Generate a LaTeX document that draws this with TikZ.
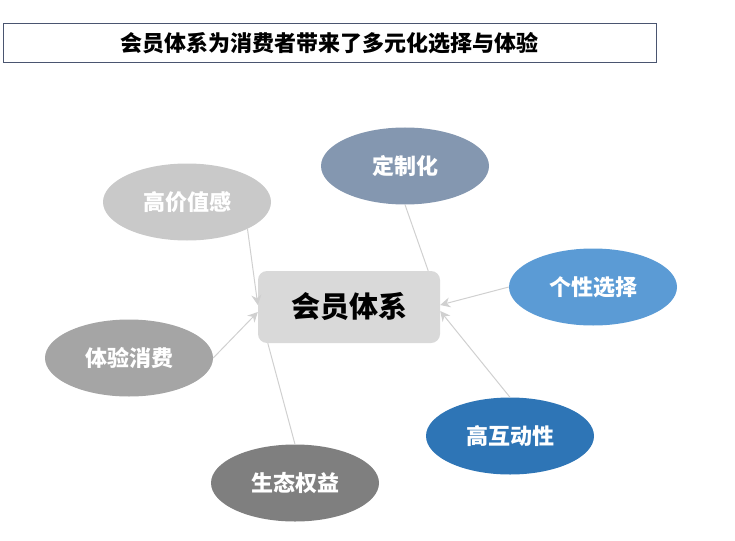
\documentclass[tikz,border=0pt]{standalone}
\usepackage{fontspec}
\setmainfont{Noto Sans CJK SC}
\usepackage{xcolor}
\usetikzlibrary{shapes.geometric, arrows.meta, positioning, calc}
\definecolor{framec}{HTML}{4A5570}
\definecolor{hubc}{HTML}{D9D9D9}
\definecolor{linec}{HTML}{D0D0D0}
\definecolor{c1}{HTML}{8497B0}
\definecolor{c2}{HTML}{C9C9C9}
\definecolor{c3}{HTML}{5B9BD5}
\definecolor{c4}{HTML}{A5A5A5}
\definecolor{c5}{HTML}{2E75B6}
\definecolor{c6}{HTML}{7F7F7F}
\tikzset{
    bubble/.style={ellipse, minimum width=168pt, minimum height=77pt, inner sep=0pt,
        text=white, font=\fontsize{22}{26}\selectfont\bfseries},
    link/.style={draw=linec, line width=1pt},
    linkarrow/.style={link, -{Stealth[length=10pt, width=10pt]}}
}

\begin{document}
\begin{tikzpicture}[x=1pt, y=-1pt]
        \useasboundingbox (0,0) rectangle (735,540);
        \node[draw=framec, line width=1pt, minimum width=653pt, minimum height=39pt,
            font=\fontsize{22}{26}\selectfont\bfseries] at (329.5,43.5) (title)
            {会员体系为消费者带来了多元化选择与体验};

        \node[fill=hubc, rounded corners=9pt, minimum width=182pt, minimum height=72pt,
            font=\fontsize{29}{33}\selectfont\bfseries] at (349,307) (hub) {会员体系};

        \node[bubble, fill=c1] at (405,166) (custom) {定制化};
        \node[bubble, fill=c2] at (187,202) (value) {高价值感};
        \node[bubble, fill=c3] at (593,287) (personal) {个性选择};
        \node[bubble, fill=c4] at (129,358) (experience) {体验消费};
        \node[bubble, fill=c5] at (510,436) (interact) {高互动性};
        \node[bubble, fill=c6] at (295,483) (eco) {生态权益};

        \draw[link] (custom.south) -- ($(hub.north east)+(-12,0)$);
        \draw[link] (eco.north) -- ($(hub.south west)+(10,0)$);
        \draw[linkarrow] (value.-24) -- ([yshift=2pt]hub.west);
        \draw[linkarrow] (experience.east) -- ([yshift=-5pt]hub.west);
        \draw[linkarrow] (personal.west) -- ([yshift=2pt]hub.east);
        \draw[linkarrow] (interact.north) -- ([yshift=-4pt]hub.east);
    \end{tikzpicture}
\end{document}
